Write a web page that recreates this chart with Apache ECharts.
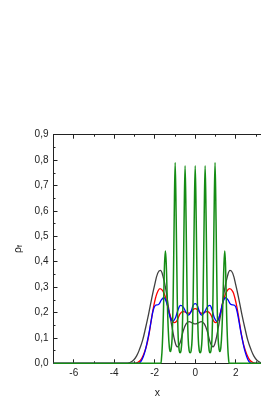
<!DOCTYPE html>
<html><head><meta charset="utf-8">
<style>html,body{margin:0;padding:0;background:#fff}#c{width:261px;height:406px}</style>
<script src="https://cdn.jsdelivr.net/npm/echarts@6/dist/echarts.min.js"></script>
</head><body><div id="c"></div>
<script>
const xMajorTicks = [-6, -4, -2, 0, 2];
const xMinorTicks = [-7, -5, -3, -1, 1, 3];
const yTicks = [0, 0.1, 0.2, 0.3, 0.4, 0.5, 0.6, 0.7, 0.8, 0.9];

const blackData = [[-7,0],[-3.35,0],[-3.2,0.004],[-3.05,0.012],[-2.9,0.028],[-2.75,0.055],[-2.6,0.09],[-2.45,0.14],[-2.3,0.195],[-2.15,0.255],[-2.0,0.31],[-1.85,0.355],[-1.72,0.366],[-1.6,0.345],[-1.45,0.29],[-1.3,0.21],[-1.15,0.145],[-1.0,0.085],[-0.88,0.065],[-0.75,0.08],[-0.6,0.125],[-0.45,0.155],[-0.3,0.164],[-0.15,0.159],[0,0.155],[0.15,0.159],[0.3,0.164],[0.45,0.155],[0.6,0.125],[0.75,0.08],[0.88,0.065],[1.0,0.085],[1.15,0.145],[1.3,0.21],[1.45,0.29],[1.6,0.345],[1.72,0.366],[1.85,0.355],[2.0,0.31],[2.15,0.255],[2.3,0.195],[2.45,0.14],[2.6,0.09],[2.75,0.055],[2.9,0.028],[3.05,0.012],[3.2,0.004],[3.35,0]];

const redData = [[-7,0],[-3.0,0],[-2.85,0.003],[-2.7,0.012],[-2.55,0.035],[-2.4,0.07],[-2.28,0.115],[-2.15,0.18],[-2.05,0.225],[-1.95,0.26],[-1.85,0.283],[-1.74,0.294],[-1.6,0.285],[-1.45,0.255],[-1.3,0.205],[-1.15,0.17],[-1.02,0.16],[-0.9,0.168],[-0.75,0.195],[-0.6,0.204],[-0.45,0.2],[-0.3,0.197],[-0.15,0.208],[0,0.215],[0.15,0.208],[0.3,0.197],[0.45,0.2],[0.6,0.204],[0.75,0.195],[0.9,0.168],[1.0,0.16],[1.12,0.168],[1.25,0.2],[1.4,0.25],[1.55,0.282],[1.7,0.294],[1.85,0.283],[1.95,0.26],[2.05,0.225],[2.15,0.18],[2.28,0.115],[2.4,0.07],[2.55,0.035],[2.7,0.012],[2.85,0.003],[3.0,0],[3.3,0]];

const blueData = [[-7,0],[-2.8,0],[-2.68,0.008],[-2.57,0.025],[-2.47,0.05],[-2.37,0.085],[-2.27,0.125],[-2.17,0.17],[-2.07,0.21],[-1.97,0.228],[-1.8,0.232],[-1.67,0.25],[-1.55,0.258],[-1.4,0.235],[-1.25,0.185],[-1.11,0.165],[-0.98,0.178],[-0.87,0.205],[-0.72,0.228],[-0.6,0.222],[-0.45,0.2],[-0.33,0.19],[-0.2,0.205],[-0.1,0.228],[0,0.235],[0.1,0.228],[0.2,0.205],[0.31,0.19],[0.45,0.2],[0.6,0.222],[0.72,0.228],[0.85,0.205],[0.95,0.178],[1.07,0.165],[1.2,0.185],[1.35,0.235],[1.5,0.258],[1.62,0.25],[1.75,0.232],[1.95,0.228],[2.05,0.21],[2.15,0.17],[2.25,0.125],[2.35,0.085],[2.45,0.05],[2.55,0.025],[2.65,0.008],[2.77,0],[3.3,0]];

const greenData = [[-7,0],[-1.72,0],[-1.67,0.015],[-1.62,0.08],[-1.57,0.2],[-1.52,0.38],[-1.47,0.442],[-1.43,0.39],[-1.38,0.25],[-1.33,0.13],[-1.28,0.065],[-1.235,0.046],[-1.19,0.055],[-1.14,0.1],[-1.09,0.26],[-1.04,0.56],[-0.99,0.791],[-0.94,0.57],[-0.89,0.275],[-0.84,0.1],[-0.79,0.05],[-0.745,0.042],[-0.7,0.05],[-0.65,0.1],[-0.6,0.27],[-0.55,0.56],[-0.5,0.778],[-0.45,0.56],[-0.4,0.27],[-0.35,0.1],[-0.3,0.05],[-0.25,0.042],[-0.2,0.05],[-0.15,0.1],[-0.1,0.27],[-0.05,0.56],[0,0.778],[0.05,0.56],[0.1,0.27],[0.15,0.1],[0.2,0.05],[0.245,0.042],[0.29,0.05],[0.34,0.1],[0.39,0.27],[0.44,0.56],[0.49,0.778],[0.54,0.56],[0.59,0.27],[0.64,0.1],[0.69,0.05],[0.735,0.042],[0.78,0.05],[0.83,0.1],[0.88,0.275],[0.93,0.57],[0.98,0.791],[1.03,0.56],[1.08,0.26],[1.13,0.1],[1.18,0.055],[1.225,0.046],[1.27,0.065],[1.32,0.13],[1.37,0.25],[1.42,0.39],[1.46,0.442],[1.5,0.38],[1.55,0.2],[1.6,0.08],[1.65,0.015],[1.7,0],[3.3,0]];

const FONT = 'Liberation Sans, Arial, sans-serif';
const AX = '#222';
const chart = echarts.init(document.getElementById('c'), null, {renderer: 'canvas'});

function xAx(pos, ticks, len, labels, extra) {
  return Object.assign({
    type: 'value', position: pos, min: -7, max: 3.25,
    axisLine: {show: true, onZero: false, lineStyle: {color: AX, width: 1}},
    axisTick: {show: true, inside: true, length: len, customValues: ticks, lineStyle: {color: AX, width: 1}},
    axisLabel: labels ? {show: true, customValues: xMajorTicks, color: AX, fontSize: 10, fontFamily: FONT, margin: 5,
      formatter: v => String(v)} : {show: false},
    splitLine: {show: false}
  }, extra || {});
}

chart.setOption({
  animation: false,
  grid: {left: 53.5, right: 0, top: 134.7, bottom: 42.7, containLabel: false},
  xAxis: [
    xAx('bottom', xMajorTicks, 4, true, {name: 'x', nameLocation: 'middle', nameGap: 24,
      nameTextStyle: {color: AX, fontSize: 10.5, fontFamily: FONT}}),
    xAx('bottom', xMinorTicks, 2, false, {axisLine: {show: false, onZero: false}}),
    xAx('top', xMajorTicks, 4, false),
    xAx('top', xMinorTicks, 2, false, {axisLine: {show: false, onZero: false}})
  ],
  yAxis: [{
    type: 'value', position: 'left', min: 0, max: 0.9, interval: 0.1,
    axisLine: {show: true, onZero: false, lineStyle: {color: AX, width: 1}},
    axisTick: {show: true, inside: true, length: 4, lineStyle: {color: AX}},
    minorTick: {show: true, splitNumber: 2, length: 2, lineStyle: {color: AX}},
    axisLabel: {color: AX, fontSize: 10, fontFamily: FONT, margin: 5,
      customValues: yTicks,
      formatter: v => v.toFixed(1).replace('.', ',')},
    splitLine: {show: false},
    name: '{a|ρ}{b|f}', nameLocation: 'middle', nameRotate: 90, nameGap: 29,
    nameTextStyle: {rich: {
      a: {fontSize: 10.5, fontFamily: FONT, color: AX},
      b: {fontSize: 7, fontFamily: FONT, color: AX, verticalAlign: 'bottom', padding: [4, 0, 0, 0]}
    }}
  }],
  series: [
    {type: 'line', data: blackData, smooth: 0.4, showSymbol: false, clip: true, lineStyle: {color: '#404040', width: 1.3}},
    {type: 'line', data: redData, smooth: 0.4, showSymbol: false, clip: true, lineStyle: {color: '#ff0000', width: 1.3}},
    {type: 'line', data: blueData, smooth: 0.4, showSymbol: false, clip: true, lineStyle: {color: '#0000ff', width: 1.3}},
    {type: 'line', data: greenData, smooth: 0.4, showSymbol: false, clip: true, lineStyle: {color: '#148c14', width: 1.5}}
  ]
});
</script></body></html>
